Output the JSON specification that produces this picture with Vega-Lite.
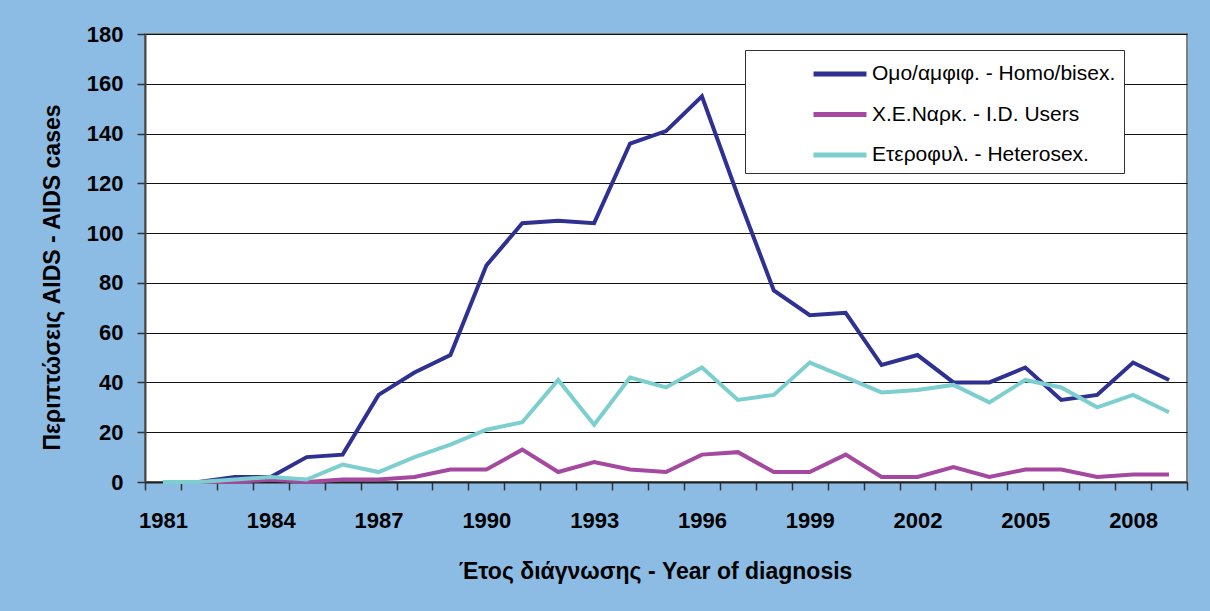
{
  "$schema": "https://vega.github.io/schema/vega-lite/v6.json",
  "width": 1042,
  "height": 448,
  "autosize": {"type": "none"},
  "padding": {"left": 145, "top": 34, "right": 23, "bottom": 129},
  "background": "#8CBCE4",
  "config": {
    "view": {"fill": "white", "stroke": "#808080", "strokeWidth": 2},
    "font": "Liberation Sans"
  },
  "data": {
    "values": [
      {"year": 1981, "group": "Ομο/αμφιφ. - Homo/bisex.", "cases": 0},
      {"year": 1982, "group": "Ομο/αμφιφ. - Homo/bisex.", "cases": 0},
      {"year": 1983, "group": "Ομο/αμφιφ. - Homo/bisex.", "cases": 2},
      {"year": 1984, "group": "Ομο/αμφιφ. - Homo/bisex.", "cases": 2},
      {"year": 1985, "group": "Ομο/αμφιφ. - Homo/bisex.", "cases": 10},
      {"year": 1986, "group": "Ομο/αμφιφ. - Homo/bisex.", "cases": 11},
      {"year": 1987, "group": "Ομο/αμφιφ. - Homo/bisex.", "cases": 35},
      {"year": 1988, "group": "Ομο/αμφιφ. - Homo/bisex.", "cases": 44},
      {"year": 1989, "group": "Ομο/αμφιφ. - Homo/bisex.", "cases": 51},
      {"year": 1990, "group": "Ομο/αμφιφ. - Homo/bisex.", "cases": 87},
      {"year": 1991, "group": "Ομο/αμφιφ. - Homo/bisex.", "cases": 104},
      {"year": 1992, "group": "Ομο/αμφιφ. - Homo/bisex.", "cases": 105},
      {"year": 1993, "group": "Ομο/αμφιφ. - Homo/bisex.", "cases": 104},
      {"year": 1994, "group": "Ομο/αμφιφ. - Homo/bisex.", "cases": 136},
      {"year": 1995, "group": "Ομο/αμφιφ. - Homo/bisex.", "cases": 141},
      {"year": 1996, "group": "Ομο/αμφιφ. - Homo/bisex.", "cases": 155},
      {"year": 1997, "group": "Ομο/αμφιφ. - Homo/bisex.", "cases": 115},
      {"year": 1998, "group": "Ομο/αμφιφ. - Homo/bisex.", "cases": 77},
      {"year": 1999, "group": "Ομο/αμφιφ. - Homo/bisex.", "cases": 67},
      {"year": 2000, "group": "Ομο/αμφιφ. - Homo/bisex.", "cases": 68},
      {"year": 2001, "group": "Ομο/αμφιφ. - Homo/bisex.", "cases": 47},
      {"year": 2002, "group": "Ομο/αμφιφ. - Homo/bisex.", "cases": 51},
      {"year": 2003, "group": "Ομο/αμφιφ. - Homo/bisex.", "cases": 40},
      {"year": 2004, "group": "Ομο/αμφιφ. - Homo/bisex.", "cases": 40},
      {"year": 2005, "group": "Ομο/αμφιφ. - Homo/bisex.", "cases": 46},
      {"year": 2006, "group": "Ομο/αμφιφ. - Homo/bisex.", "cases": 33},
      {"year": 2007, "group": "Ομο/αμφιφ. - Homo/bisex.", "cases": 35},
      {"year": 2008, "group": "Ομο/αμφιφ. - Homo/bisex.", "cases": 48},
      {"year": 2009, "group": "Ομο/αμφιφ. - Homo/bisex.", "cases": 41},
      {"year": 1981, "group": "Χ.Ε.Ναρκ. - I.D. Users", "cases": 0},
      {"year": 1982, "group": "Χ.Ε.Ναρκ. - I.D. Users", "cases": 0},
      {"year": 1983, "group": "Χ.Ε.Ναρκ. - I.D. Users", "cases": 0},
      {"year": 1984, "group": "Χ.Ε.Ναρκ. - I.D. Users", "cases": 1},
      {"year": 1985, "group": "Χ.Ε.Ναρκ. - I.D. Users", "cases": 0},
      {"year": 1986, "group": "Χ.Ε.Ναρκ. - I.D. Users", "cases": 1},
      {"year": 1987, "group": "Χ.Ε.Ναρκ. - I.D. Users", "cases": 1},
      {"year": 1988, "group": "Χ.Ε.Ναρκ. - I.D. Users", "cases": 2},
      {"year": 1989, "group": "Χ.Ε.Ναρκ. - I.D. Users", "cases": 5},
      {"year": 1990, "group": "Χ.Ε.Ναρκ. - I.D. Users", "cases": 5},
      {"year": 1991, "group": "Χ.Ε.Ναρκ. - I.D. Users", "cases": 13},
      {"year": 1992, "group": "Χ.Ε.Ναρκ. - I.D. Users", "cases": 4},
      {"year": 1993, "group": "Χ.Ε.Ναρκ. - I.D. Users", "cases": 8},
      {"year": 1994, "group": "Χ.Ε.Ναρκ. - I.D. Users", "cases": 5},
      {"year": 1995, "group": "Χ.Ε.Ναρκ. - I.D. Users", "cases": 4},
      {"year": 1996, "group": "Χ.Ε.Ναρκ. - I.D. Users", "cases": 11},
      {"year": 1997, "group": "Χ.Ε.Ναρκ. - I.D. Users", "cases": 12},
      {"year": 1998, "group": "Χ.Ε.Ναρκ. - I.D. Users", "cases": 4},
      {"year": 1999, "group": "Χ.Ε.Ναρκ. - I.D. Users", "cases": 4},
      {"year": 2000, "group": "Χ.Ε.Ναρκ. - I.D. Users", "cases": 11},
      {"year": 2001, "group": "Χ.Ε.Ναρκ. - I.D. Users", "cases": 2},
      {"year": 2002, "group": "Χ.Ε.Ναρκ. - I.D. Users", "cases": 2},
      {"year": 2003, "group": "Χ.Ε.Ναρκ. - I.D. Users", "cases": 6},
      {"year": 2004, "group": "Χ.Ε.Ναρκ. - I.D. Users", "cases": 2},
      {"year": 2005, "group": "Χ.Ε.Ναρκ. - I.D. Users", "cases": 5},
      {"year": 2006, "group": "Χ.Ε.Ναρκ. - I.D. Users", "cases": 5},
      {"year": 2007, "group": "Χ.Ε.Ναρκ. - I.D. Users", "cases": 2},
      {"year": 2008, "group": "Χ.Ε.Ναρκ. - I.D. Users", "cases": 3},
      {"year": 2009, "group": "Χ.Ε.Ναρκ. - I.D. Users", "cases": 3},
      {"year": 1981, "group": "Ετεροφυλ. - Heterosex.", "cases": 0},
      {"year": 1982, "group": "Ετεροφυλ. - Heterosex.", "cases": 0},
      {"year": 1983, "group": "Ετεροφυλ. - Heterosex.", "cases": 1},
      {"year": 1984, "group": "Ετεροφυλ. - Heterosex.", "cases": 2},
      {"year": 1985, "group": "Ετεροφυλ. - Heterosex.", "cases": 1},
      {"year": 1986, "group": "Ετεροφυλ. - Heterosex.", "cases": 7},
      {"year": 1987, "group": "Ετεροφυλ. - Heterosex.", "cases": 4},
      {"year": 1988, "group": "Ετεροφυλ. - Heterosex.", "cases": 10},
      {"year": 1989, "group": "Ετεροφυλ. - Heterosex.", "cases": 15},
      {"year": 1990, "group": "Ετεροφυλ. - Heterosex.", "cases": 21},
      {"year": 1991, "group": "Ετεροφυλ. - Heterosex.", "cases": 24},
      {"year": 1992, "group": "Ετεροφυλ. - Heterosex.", "cases": 41},
      {"year": 1993, "group": "Ετεροφυλ. - Heterosex.", "cases": 23},
      {"year": 1994, "group": "Ετεροφυλ. - Heterosex.", "cases": 42},
      {"year": 1995, "group": "Ετεροφυλ. - Heterosex.", "cases": 38},
      {"year": 1996, "group": "Ετεροφυλ. - Heterosex.", "cases": 46},
      {"year": 1997, "group": "Ετεροφυλ. - Heterosex.", "cases": 33},
      {"year": 1998, "group": "Ετεροφυλ. - Heterosex.", "cases": 35},
      {"year": 1999, "group": "Ετεροφυλ. - Heterosex.", "cases": 48},
      {"year": 2000, "group": "Ετεροφυλ. - Heterosex.", "cases": 42},
      {"year": 2001, "group": "Ετεροφυλ. - Heterosex.", "cases": 36},
      {"year": 2002, "group": "Ετεροφυλ. - Heterosex.", "cases": 37},
      {"year": 2003, "group": "Ετεροφυλ. - Heterosex.", "cases": 39},
      {"year": 2004, "group": "Ετεροφυλ. - Heterosex.", "cases": 32},
      {"year": 2005, "group": "Ετεροφυλ. - Heterosex.", "cases": 41},
      {"year": 2006, "group": "Ετεροφυλ. - Heterosex.", "cases": 38},
      {"year": 2007, "group": "Ετεροφυλ. - Heterosex.", "cases": 30},
      {"year": 2008, "group": "Ετεροφυλ. - Heterosex.", "cases": 35},
      {"year": 2009, "group": "Ετεροφυλ. - Heterosex.", "cases": 28}
    ]
  },
  "mark": {"type": "line", "strokeWidth": 4, "strokeJoin": "miter"},
  "encoding": {
    "x": {
      "field": "year",
      "type": "ordinal",
      "bandPosition": 0.5,
      "scale": {"type": "band", "paddingInner": 0, "paddingOuter": 0},
      "axis": {
        "title": "Έτος διάγνωσης - Year of diagnosis",
        "titleFont": "Liberation Sans",
        "titleFontSize": 23,
        "titleFontWeight": "bold",
        "titleColor": "black",
        "titlePadding": 29,
        "titleX": 510,
        "titleAnchor": "middle",
        "labelAngle": 0,
        "labelFont": "Liberation Sans",
        "labelFontSize": 22,
        "labelFontWeight": "bold",
        "labelColor": "black",
        "labelPadding": 20,
        "labelExpr": "(+datum.value - 1981) % 3 == 0 ? datum.label : ''",
        "tickBand": "extent",
        "tickSize": 8,
        "tickColor": "#333",
        "tickWidth": 1.5,
        "domainColor": "#222",
        "domainWidth": 2,
        "grid": false
      }
    },
    "y": {
      "field": "cases",
      "type": "quantitative",
      "scale": {"domain": [0, 180], "nice": false},
      "axis": {
        "title": "Περιπτώσεις AIDS - AIDS cases",
        "titleFont": "Liberation Sans",
        "titleFontSize": 23,
        "titleFontWeight": "bold",
        "titleColor": "black",
        "titlePadding": 22,
        "titleY": 243,
        "titleAnchor": "middle",
        "values": [0, 20, 40, 60, 80, 100, 120, 140, 160, 180],
        "labelFont": "Liberation Sans",
        "labelFontSize": 22,
        "labelFontWeight": "bold",
        "labelColor": "black",
        "labelPadding": 14,
        "tickSize": 8,
        "tickColor": "#333",
        "tickWidth": 1.5,
        "domainColor": "#444",
        "domainWidth": 2,
        "grid": true,
        "gridColor": "#111",
        "gridWidth": 1.2
      }
    },
    "color": {
      "field": "group",
      "type": "nominal",
      "sort": ["Ομο/αμφιφ. - Homo/bisex.", "Χ.Ε.Ναρκ. - I.D. Users", "Ετεροφυλ. - Heterosex."],
      "scale": {
        "domain": ["Ομο/αμφιφ. - Homo/bisex.", "Χ.Ε.Ναρκ. - I.D. Users", "Ετεροφυλ. - Heterosex."],
        "range": ["#2E3192", "#A5489F", "#7DCFCF"]
      },
      "legend": {
        "title": null,
        "orient": "none",
        "legendX": 600,
        "legendY": 16,
        "fillColor": "white",
        "strokeColor": "#333",
        "padding": 8,
        "symbolType": "M-2,0H2",
        "symbolSize": 702,
        "symbolStrokeWidth": 5,
        "symbolOffset": 71,
        "labelOffset": 16,
        "labelLimit": 500,
        "labelFont": "Liberation Sans",
        "labelFontSize": 21,
        "labelColor": "black",
        "rowPadding": 14.5
      }
    }
  }
}
